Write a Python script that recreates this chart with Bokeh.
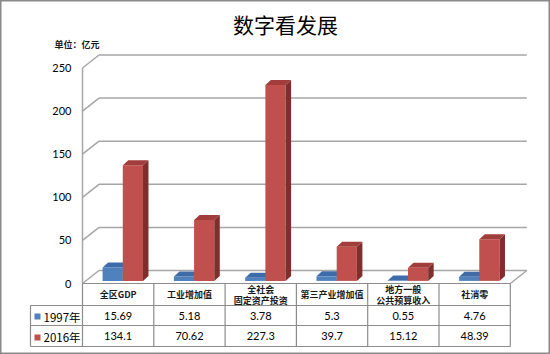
from bokeh.plotting import figure
from bokeh.models import Range1d
from bokeh.embed import file_html
from bokeh.resources import INLINE
from bokeh.core.properties import value

# ---------------- data ----------------
title_text = "数字看发展"
unit_text = "单位：亿元"
categories = ["全区GDP", "工业增加值", "全社会\n固定资产投资", "第三产业增加值",
              "地方一般\n公共预算收入", "社消零"]
series_names = ["1997年", "2016年"]
values_1997 = [15.69, 5.18, 3.78, 5.3, 0.55, 4.76]
values_2016 = [134.1, 70.62, 227.3, 39.7, 15.12, 48.39]
y_ticks = [0, 50, 100, 150, 200, 250]

# ---------------- layout constants ----------------
W, H = 550, 354
X0_PX, PX_PER_X = 82.0, 71.3     # front plane: category 0 starts at 82px
Y0_PX, PX_PER_Y = 283.0, 0.862   # front plane: value 0 at 283px

def ux(px):
    return (px - X0_PX) / PX_PER_X

def uy(py):
    return (Y0_PX - py) / PX_PER_Y

WDX, WDY = 16.5 / PX_PER_X, 13.0 / PX_PER_Y      # wall depth
BW = 20.2 / PX_PER_X                               # bar width
SHIFT = 0.065                                      # bars sit a bit back in depth
BASE = 2.6 / PX_PER_Y
DDX, DDY = 5.5 / PX_PER_X, 5.0 / PX_PER_Y          # bar depth

n = len(categories)
ymax = y_ticks[-1]

p = figure(width=W, height=H, output_backend="svg", toolbar_location=None,
           x_range=Range1d(ux(0), ux(W)), y_range=Range1d(uy(H), uy(0)),
           x_axis_location=None, y_axis_location=None, min_border=0,
           background_fill_color="white", border_fill_color="white")
p.xgrid.visible = False
p.ygrid.visible = False
p.outline_line_color = "#8a8a8a"
p.outline_line_width = 2

grid_col = "#a6a6a6"
# back wall gridlines
p.multi_line(xs=[[WDX, n + WDX] for v in y_ticks],
             ys=[[v + WDY, v + WDY] for v in y_ticks],
             line_color=grid_col, line_width=1.5)
# left wall diagonals
p.multi_line(xs=[[0, WDX] for v in y_ticks],
             ys=[[v, v + WDY] for v in y_ticks],
             line_color=grid_col, line_width=1.5)
# front vertical axis line
p.line(x=[0, 0], y=[0, ymax], line_color=grid_col, line_width=1.5)
# floor right diagonal
p.line(x=[n, n + WDX], y=[0, WDY], line_color=grid_col, line_width=1.5)

# tick labels
p.text(x=[ux(71)] * len(y_ticks), y=y_ticks, text=[str(v) for v in y_ticks],
       text_align="right", text_baseline="middle", text_font=value("Lato"),
       text_font_size="11px", text_color="#000000")

# ---------------- bars ----------------
styles = [
    dict(front="#4f81bd", top="#3e6ca9", side="#2f5689"),
    dict(front="#c0504d", top="#a13d3a", side="#7e2f2d"),
]
for s, vals in enumerate([values_1997, values_2016]):
    lefts = [i + 0.5 - BW + SHIFT + s * BW for i in range(n)]
    rights = [l + BW for l in lefts]
    tops = [BASE + v for v in vals]
    st = styles[s]
    p.quad(left=lefts, right=rights, bottom=[BASE] * n, top=tops,
           fill_color=st["front"], line_color=None)
    p.patches(xs=[[l, r, r + DDX, l + DDX] for l, r in zip(lefts, rights)],
              ys=[[t, t, t + DDY, t + DDY] for t in tops],
              fill_color=st["top"], line_color=None)
    p.patches(xs=[[r, r + DDX, r + DDX, r] for r in rights],
              ys=[[BASE, BASE + DDY, t + DDY, t] for t in tops],
              fill_color=st["side"], line_color=None)

# ---------------- data table ----------------
tab_col = "#8c8c8c"
row_y = [0, uy(305), uy(325), uy(346)]
leg_left = ux(30)
p.line(x=[0, n], y=[0, 0], line_color=tab_col, line_width=1.2)
p.multi_line(xs=[[leg_left, n] for y in row_y[1:]],
             ys=[[y, y] for y in row_y[1:]],
             line_color=tab_col, line_width=1.2)
p.line(x=[leg_left, leg_left], y=[row_y[1], row_y[3]], line_color=tab_col, line_width=1.2)
p.multi_line(xs=[[i, i] for i in range(n + 1)],
             ys=[[0, row_y[3]] for i in range(n + 1)],
             line_color=tab_col, line_width=1.2)

# header labels
hx, hy, ht = [], [], []
for i, c in enumerate(categories):
    parts = c.split("\n")
    if len(parts) == 1:
        hx.append(i + 0.5); hy.append(uy(294)); ht.append(parts[0])
    else:
        hx += [i + 0.5, i + 0.5]
        hy += [uy(289), uy(300)]
        ht += parts
p.text(x=hx, y=hy, text=ht, text_align="center", text_baseline="middle",
       text_font=value("Noto Sans CJK SC"), text_font_size="9px",
       text_font_style="bold", text_color="#1a1a1a")

# values
row_mid = [uy(315.5), uy(335.5)]
for s, vals in enumerate([values_1997, values_2016]):
    p.text(x=[i + 0.5 for i in range(n)], y=[row_mid[s]] * n,
           text=[str(v) for v in vals], text_align="center", text_baseline="middle",
           text_font=value("Lato"), text_font_size="11px", text_color="#000000")

# legend keys in table
p.scatter(x=[ux(37)] * 2, y=[uy(316), uy(337)], marker="square", size=6,
          fill_color=[styles[0]["front"], styles[1]["front"]], line_color=None)
p.text(x=[ux(43)] * 2, y=[uy(316), uy(336)], text=series_names,
       text_align="left", text_baseline="middle",
       text_font=value("Noto Sans CJK SC"), text_font_size="11.5px", text_color="#000000")

# titles
p.text(x=[ux(285)], y=[uy(23)], text=[title_text], text_align="center",
       text_baseline="middle", text_font=value("Noto Sans CJK SC"),
       text_font_size="21px", text_color="#000000")
p.text(x=[ux(54)], y=[uy(44)], text=[unit_text], text_align="left",
       text_baseline="middle", text_font=value("Noto Sans CJK SC"),
       text_font_size="9px", text_font_style="bold", text_color="#1a1a1a")

open("out.html", "w").write(file_html(p, INLINE))
